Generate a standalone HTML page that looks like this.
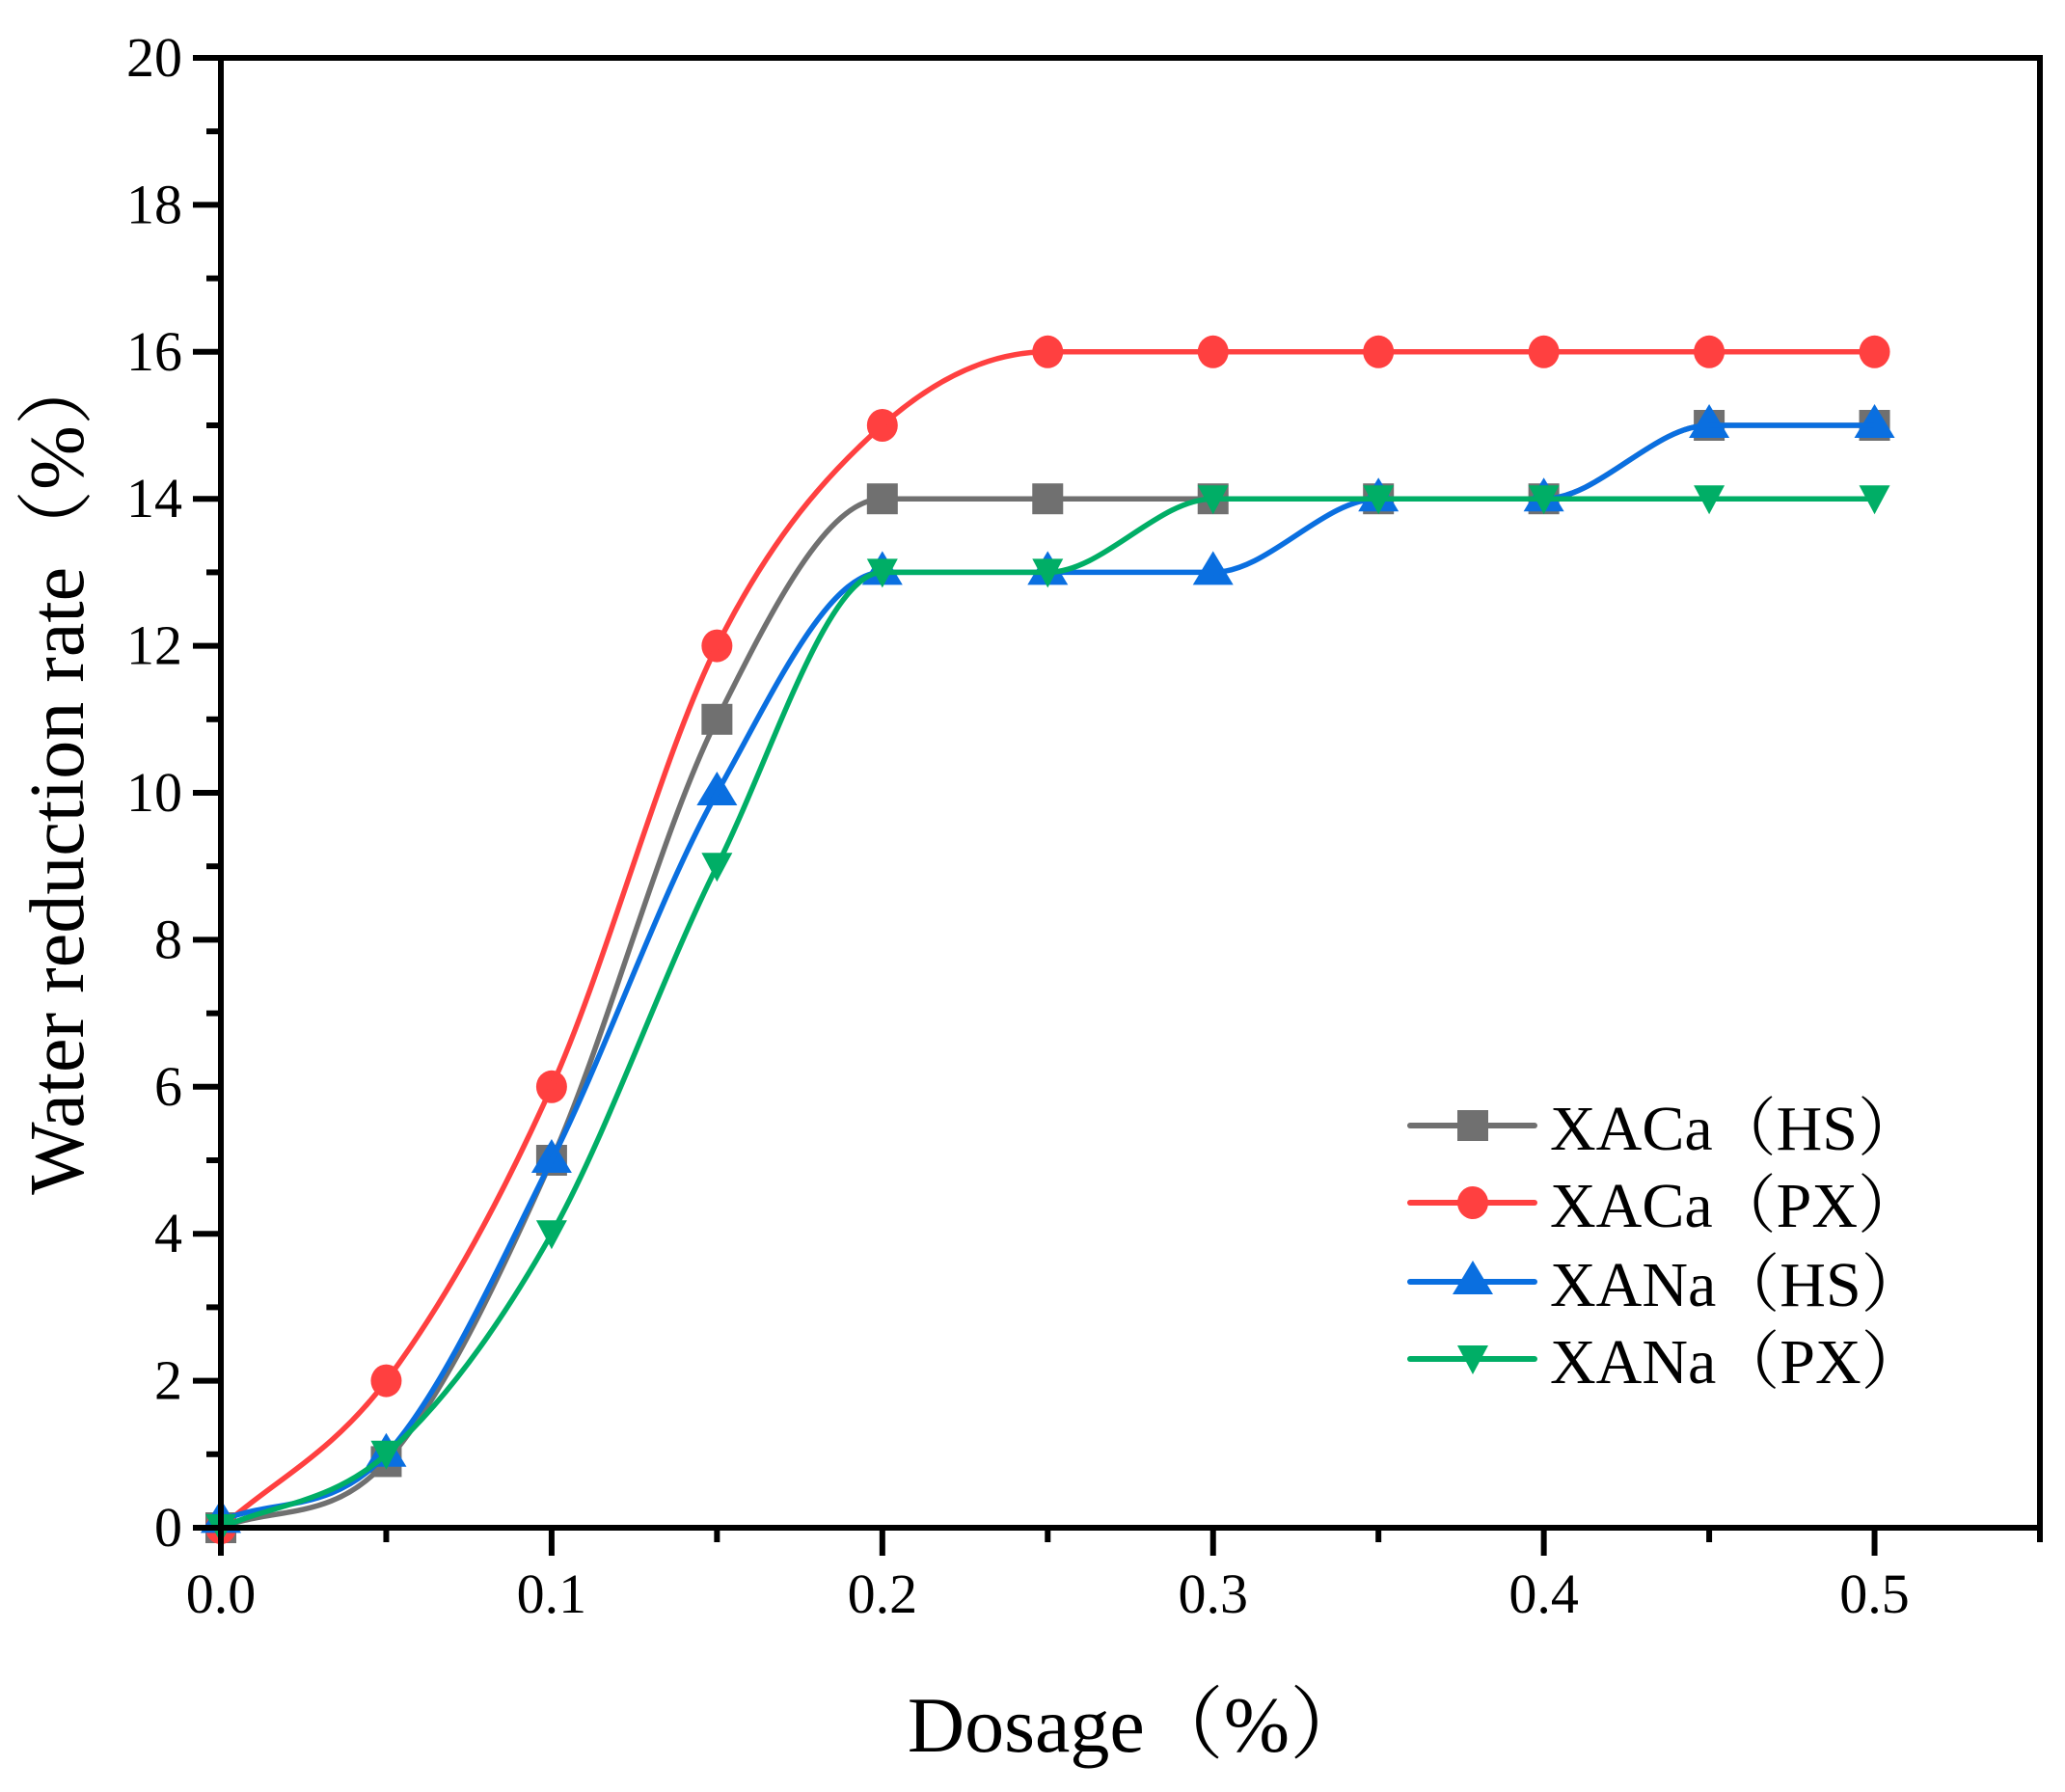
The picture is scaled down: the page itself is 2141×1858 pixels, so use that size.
<!DOCTYPE html>
<html><head><meta charset="utf-8"><style>
body{margin:0;background:#fff}
svg text{font-family:"Liberation Serif","Noto Serif CJK SC",serif;fill:#000}
</style></head><body>
<svg id="chart" width="2141" height="1853" viewBox="0 0 2141 1853" xmlns="http://www.w3.org/2000/svg">
<g id="plot"></g>
</svg>
<script>
const xValues=[0,0.05,0.1,0.15,0.2,0.25,0.3,0.35,0.4,0.45,0.5];
const xacaHS=[0,0.9,5,11,14,14,14,14,14,15,15];
const xacaPX=[0,2,6,12,15,16,16,16,16,16,16];
const xanaHS=[0.1,1,5,10,13,13,13,14,14,15,15];
const xanaPX=[0,1,4,9,13,13,14,14,14,14,14];
const seriesNames=["XACa（HS）","XACa（PX）","XANa（HS）","XANa（PX）"];
const xTicks=[0,0.1,0.2,0.3,0.4,0.5];
const xTickLabels=["0.0","0.1","0.2","0.3","0.4","0.5"];
const yTicks=[0,2,4,6,8,10,12,14,16,18,20];

const L=229,R=2115,T=60,B=1584;
const xs=v=>L+v/0.55*(R-L);
const ys=v=>B-v/20*(B-T);
const NS="http://www.w3.org/2000/svg";
const svg=document.getElementById('chart');
const plot=document.getElementById('plot');
function mk(tag,attrs,parent){const e=document.createElementNS(NS,tag);for(const k in attrs)e.setAttribute(k,attrs[k]);(parent||svg).appendChild(e);return e;}

const series=[
 {d:xacaHS,c:"#707070",m:"square",n:"xaca-hs"},
 {d:xacaPX,c:"#FF4040",m:"circle",n:"xaca-px"},
 {d:xanaHS,c:"#0A6FE0",m:"up",n:"xana-hs"},
 {d:xanaPX,c:"#00AE66",m:"down",n:"xana-px"}];

function marker(type,x,y,c,parent){
 let e;
 if(type==="square"){e=mk('rect',{x:x-16,y:y-16,width:32,height:32,fill:c},parent);}
 else if(type==="circle"){e=mk('ellipse',{cx:x,cy:y,rx:16,ry:17,fill:c},parent);}
 else if(type==="up"){e=mk('polygon',{points:`${x},${y-22} ${x-21},${y+13} ${x+21},${y+13}`,fill:c},parent);}
 else {e=mk('polygon',{points:`${x-16},${y-14} ${x+16},${y-14} ${x},${y+16}`,fill:c},parent);}
 return e;
}
function spline(pts){
 const n=pts.length,dx=[],m=[],t=[];
 for(let i=0;i<n-1;i++){dx[i]=pts[i+1][0]-pts[i][0];m[i]=(pts[i+1][1]-pts[i][1])/dx[i];}
 t[0]=m[0];t[n-1]=m[n-2];
 for(let i=1;i<n-1;i++){t[i]=(m[i-1]*m[i]<=0)?0:(m[i-1]+m[i])/2;}
 for(let i=0;i<n-1;i++){
  if(m[i]===0){t[i]=0;t[i+1]=0;continue;}
  const a=t[i]/m[i],b=t[i+1]/m[i],s=a*a+b*b;
  if(s>9){const k=3/Math.sqrt(s);t[i]=k*a*m[i];t[i+1]=k*b*m[i];}
 }
 let d=`M${pts[0][0]},${pts[0][1]}`;
 for(let i=0;i<n-1;i++){
  const h=dx[i]/3;
  d+=` C${pts[i][0]+h},${pts[i][1]+t[i]*h} ${pts[i+1][0]-h},${pts[i+1][1]-t[i+1]*h} ${pts[i+1][0]},${pts[i+1][1]}`;
 }
 return d;
}
series.forEach(s=>{
 const g=mk('g',{},plot);
 
 
 s.d.forEach((v,i)=>{
  const e=marker(s.m,xs(xValues[i]),ys(v),s.c,g);
  
  
 });
 const pts=s.d.map((v,i)=>[xs(xValues[i]),ys(v)]);
 const p=mk('path',{d:spline(pts),fill:'none',stroke:s.c,'stroke-width':5.5,'stroke-linejoin':'round'},g);
 
 
});

const fr=mk('rect',{x:L,y:T,width:R-L,height:B-T,fill:'none',stroke:'#000','stroke-width':6});


for(let v=0;v<=20;v+=1){
 const major=v%2===0;
 const t=mk('line',{x1:L,x2:L-(major?29:15),y1:ys(v),y2:ys(v),stroke:'#000','stroke-width':6});
 
 
}
yTicks.forEach(v=>{
 const t=mk('text',{x:L-40,y:ys(v)+19,'text-anchor':'end','font-size':58});
 t.textContent=v;
 
 
});
for(let i=0;i<=11;i++){
 const v=i*0.05;const major=i%2===0;
 const t=mk('line',{x1:xs(v),x2:xs(v),y1:B,y2:B+(major?29:15),stroke:'#000','stroke-width':6});
 
 
}
xTicks.forEach((v,i)=>{
 const t=mk('text',{x:xs(v),y:1672,'text-anchor':'middle','font-size':58});
 t.textContent=xTickLabels[i];
 
 
});
const xt=mk('text',{x:1180,y:1816,'text-anchor':'middle','font-size':82});
xt.textContent="Dosage（%）";


const yt=mk('text',{x:0,y:0,'text-anchor':'middle','font-size':80,transform:'translate(86,800) rotate(-90)'});
yt.textContent="Water reduction rate（%）";


const lg=mk('g',{});


const rowsY=[1167,1247,1329,1409];
series.forEach((s,i)=>{
 const y=rowsY[i];
 const e=mk('g',{},lg);
 
 
 mk('line',{x1:1462,x2:1591,y1:y,y2:y,stroke:s.c,'stroke-width':6,'stroke-linecap':'round'},e);
 marker(s.m,1527,y,s.c,e);
 const t=mk('text',{x:1607,y:y+25,'font-size':66},e);
 t.textContent=seriesNames[i];
});
</script>
</body></html>
